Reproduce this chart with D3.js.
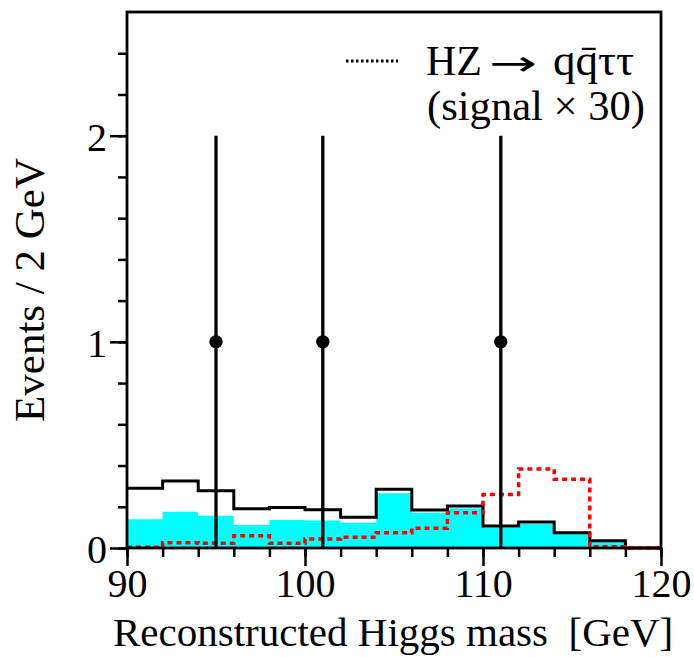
<!DOCTYPE html>
<html>
<head>
<meta charset="utf-8">
<script src="https://cdn.jsdelivr.net/npm/d3@7/dist/d3.min.js"></script>
<style>
  html, body { margin: 0; padding: 0; background: #fff; }
  svg { display: block; }
  text { font-family: "Liberation Serif", "Times New Roman", serif; fill: #000; }
</style>
</head>
<body>
<svg id="chart" width="694" height="657"></svg>
<script>
// ---- data ----
const binEdges = [90, 92, 94, 96, 98, 100, 102, 104, 106, 108, 110, 112, 114, 116, 118, 120];
const totalBkg = [0.29, 0.325, 0.278, 0.19, 0.197, 0.186, 0.149, 0.285, 0.184, 0.204, 0.107, 0.126, 0.074, 0.035, 0.0];
const partBkg  = [0.139, 0.176, 0.157, 0.112, 0.136, 0.133, 0.123, 0.265, 0.171, 0.193, 0.10, 0.117, 0.072, 0.035, 0.0];
const signalX30 = [0.004, 0.026, 0.023, 0.06, 0.023, 0.044, 0.052, 0.074, 0.096, 0.171, 0.259, 0.383, 0.333, 0.006, 0.0];
const dataX = [95, 101, 111];
const dataY = [1, 1, 1];
const dataErrLo = [1, 1, 1];
const dataErrHi = [1, 1, 1];
const xTickLabels = [90, 100, 110, 120];
const yTickLabels = [0, 1, 2];

const W = 694, H = 657;
const margin = { left: 127, right: 33, top: 12, bottom: 109 };
const svg = d3.select("#chart");

const x = d3.scaleLinear().domain([90, 120]).range([margin.left, W - margin.right]);
const y = d3.scaleLinear().domain([0, 2.6]).range([H - margin.bottom, margin.top]);

function stepPts(vals) {
  const pts = vals.map((v, i) => [binEdges[i], v]);
  pts.push([binEdges[binEdges.length - 1], vals[vals.length - 1]]);
  return pts;
}

// cyan filled background
const area = d3.area().curve(d3.curveStepAfter)
  .x(d => x(d[0])).y0(y(0)).y1(d => y(d[1]));
svg.append("path").datum(stepPts(partBkg))
  .attr("d", area).attr("fill", "#00ffff").attr("stroke", "none");

// total background line
const line = d3.line().curve(d3.curveStepAfter).x(d => x(d[0])).y(d => y(d[1]));
svg.append("path").datum(stepPts(totalBkg))
  .attr("d", line).attr("fill", "none").attr("stroke", "#000").attr("stroke-width", 3);

// signal x30 dotted
svg.append("path").datum(stepPts(signalX30))
  .attr("d", line).attr("fill", "none").attr("stroke", "#ff0000")
  .attr("stroke-width", 3.5).attr("stroke-dasharray", "5,4");

// data points with error bars
const pts = dataX.map((d, i) => ({ x: d, y: dataY[i], lo: dataErrLo[i], hi: dataErrHi[i] }));
svg.selectAll(".err").data(pts).enter().append("line")
  .attr("x1", d => x(d.x)).attr("x2", d => x(d.x))
  .attr("y1", d => y(d.y - d.lo)).attr("y2", d => y(d.y + d.hi))
  .attr("stroke", "#000").attr("stroke-width", 3.3);
svg.selectAll(".pt").data(pts).enter().append("circle")
  .attr("cx", d => x(d.x)).attr("cy", d => y(d.y)).attr("r", 6.7).attr("fill", "#000");

// axes
const xAxisMinor = d3.axisBottom(x).tickValues(d3.range(90, 121, 2)).tickSize(9).tickFormat("");
const xAxisMajor = d3.axisBottom(x).tickValues(xTickLabels).tickSize(18).tickPadding(6).tickFormat(d3.format("d"));
const yAxisMinor = d3.axisLeft(y).tickValues(d3.range(0, 2.5, 0.2)).tickSize(9).tickFormat("");
const yAxisMajor = d3.axisLeft(y).tickValues(yTickLabels).tickSize(17).tickPadding(4).tickFormat(d3.format("d"));

function styleAxis(g) {
  g.select(".domain").remove();
  g.selectAll(".tick line").attr("stroke", "#000").attr("stroke-width", 2.5);
  g.selectAll(".tick text").attr("font-family", "Liberation Serif, Times New Roman, serif")
    .attr("font-size", 40).attr("fill", "#000");
}
svg.append("g").attr("transform", `translate(0,${y(0)})`).call(xAxisMinor).call(styleAxis);
const gx = svg.append("g").attr("transform", `translate(0,${y(0)})`).call(xAxisMajor).call(styleAxis);
gx.selectAll(".tick text").attr("dy", "0.71em").attr("y", 21);
svg.append("g").attr("transform", `translate(${x(90)},0)`).call(yAxisMinor).call(styleAxis);
const gy = svg.append("g").attr("transform", `translate(${x(90)},0)`).call(yAxisMajor).call(styleAxis);
gy.selectAll(".tick text").attr("dy", "0.36em").attr("x", -20);

// frame
svg.append("rect")
  .attr("x", x(90)).attr("y", y(2.6))
  .attr("width", x(120) - x(90)).attr("height", y(0) - y(2.6))
  .attr("fill", "none").attr("stroke", "#000").attr("stroke-width", 2.8);

// axis titles
svg.append("text").attr("x", 113).attr("y", 646)
  .attr("font-size", 41).text("Reconstructed Higgs mass\u00a0\u00a0[GeV]");
svg.append("text").attr("transform", "translate(44,290) rotate(-90)")
  .attr("text-anchor", "middle").attr("font-size", 43).text("Events / 2 GeV");

// legend
svg.append("line").attr("x1", 346).attr("x2", 398).attr("y1", 61).attr("y2", 61)
  .attr("stroke", "#000").attr("stroke-width", 3).attr("stroke-dasharray", "2.5,2.5");
const leg1 = svg.append("text").attr("y", 75).attr("font-size", 42);
leg1.append("tspan").attr("x", 426).text("HZ");
leg1.append("tspan").attr("x", 489).attr("font-family", "DejaVu Sans").attr("font-size", 34)
  .attr("textLength", 48).attr("lengthAdjust", "spacingAndGlyphs").text("\u2192");
leg1.append("tspan").attr("x", 553).attr("font-size", 45)
  .text("qq\u0304\u03c4\u03c4");
svg.append("text").attr("x", 427).attr("y", 120).attr("font-size", 42)
  .attr("textLength", 218).attr("lengthAdjust", "spacingAndGlyphs")
  .text("(signal \u00d7 30)");
</script>
</body>
</html>
